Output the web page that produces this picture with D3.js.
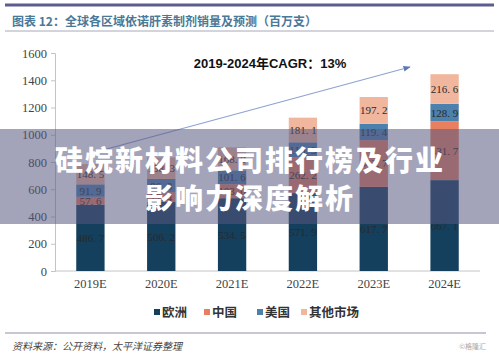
<!DOCTYPE html>
<html><head><meta charset="utf-8">
<script src="https://cdn.jsdelivr.net/npm/d3@7"></script>
<style>body{margin:0;background:#fff}svg{display:block}</style>
</head><body>
<svg id="c" width="499" height="355"></svg>
<script>
const categories = ["2019E","2020E","2021E","2022E","2023E","2024E"];
const europe = [486.7, 506.2, 534.5, 571.9, 617.7, 667.1];
const china  = [57.6, 72.4, 103.0, 262.2, 342.7, 431.7];
const usa    = [91.9, 96.8, 101.6, 110.3, 119.4, 128.9];
const other  = [148.5, 158.3, 168.0, 181.1, 197.2, 216.6];
const seriesNames = ["欧洲","中国","美国","其他市场"];
const seriesColors = ["#143f5d","#e8805f","#4c80ad","#f0b79e"];
const yTicks = [0,200,400,600,800,1000,1200,1400,1600];

const svg = d3.select("#c");
const x = d3.scaleBand().domain(categories).range([55,480]).paddingInner(0.6).paddingOuter(0.3);
const y = d3.scaleLinear().domain([0,1600]).range([271,53]);

// header
svg.append("line").attr("x1",5).attr("x2",494).attr("y1",5).attr("y2",5).attr("stroke","#5c5c8e").attr("stroke-width",3);
svg.append("text").attr("x",12).attr("y",26).attr("font-family","Noto Sans CJK SC").attr("font-size",12).attr("font-weight",700)
  .attr("fill","#4a7898").text("图表 12：全球各区域依诺肝素制剂销量及预测（百万支）");
svg.append("line").attr("x1",5).attr("x2",494).attr("y1",31).attr("y2",31).attr("stroke","#a8a8b8").attr("stroke-width",1);

// axes
const yAxis = svg.append("g").attr("transform","translate(55,0)")
  .call(d3.axisLeft(y).tickValues(yTicks).tickFormat(d3.format("d")).tickSize(4).tickPadding(4));
yAxis.select(".domain").attr("stroke","#c4c4c4");
yAxis.selectAll(".tick line").attr("stroke","#c4c4c4");
yAxis.selectAll("text").attr("font-family","Liberation Serif").attr("font-size",12.5).attr("fill","#444");

const xAxis = svg.append("g").attr("transform","translate(0,271)")
  .call(d3.axisBottom(x).tickSize(0).tickPadding(8));
xAxis.select(".domain").attr("stroke","#c4c4c4").attr("d","M55,0H480");
xAxis.selectAll("text").attr("font-family","Liberation Serif").attr("font-size",12.5).attr("fill","#444");

// stacked bars
const table = categories.map((c,i)=>({cat:c, "欧洲":europe[i], "中国":china[i], "美国":usa[i], "其他市场":other[i]}));
const stacked = d3.stack().keys(seriesNames)(table);
const color = d3.scaleOrdinal().domain(seriesNames).range(seriesColors);
const fmt = v => v.toFixed(1).replace(".", ". ");

stacked.forEach((layer)=>{
  const g = svg.append("g");
  g.selectAll("rect").data(layer).join("rect")
    .attr("x",d=>x(d.data.cat)).attr("width",x.bandwidth())
    .attr("y",d=>y(d[1])).attr("height",d=>y(d[0])-y(d[1]))
    .attr("fill",color(layer.key));
  g.selectAll("text").data(layer).join("text")
    .attr("x",d=>x(d.data.cat)+x.bandwidth()/2)
    .attr("y",d=>(y(d[0])+y(d[1]))/2+4)
    .attr("text-anchor","middle").attr("font-family","Liberation Serif").attr("font-size",11)
    .attr("fill","#2a2a2a").text(d=>fmt(d[1]-d[0]));
});

// CAGR annotation
svg.append("defs").append("marker").attr("id","ah").attr("viewBox","0 0 10 10").attr("refX",9).attr("refY",5)
  .attr("markerWidth",6).attr("markerHeight",6).attr("orient","auto")
  .append("path").attr("d","M0,1L10,5L0,9z").attr("fill","#5a78b8");
svg.append("line").attr("x1",103).attr("y1",150).attr("x2",410).attr("y2",67)
  .attr("stroke","#8ea3cf").attr("stroke-width",1.2).attr("marker-end","url(#ah)");
svg.append("text").attr("x",270).attr("y",68).attr("text-anchor","middle")
  .attr("font-family","Liberation Sans, Noto Sans CJK SC").attr("font-size",13).attr("font-weight",700).attr("fill","#111")
  .text("2019-2024年CAGR：13%");

// legend
const lg = svg.append("g");
const legX = [154, 204, 257, 301];
seriesNames.forEach((n,i)=>{
  lg.append("rect").attr("x",legX[i]).attr("y",309).attr("width",6).attr("height",6).attr("fill",seriesColors[i]);
  lg.append("text").attr("x",legX[i]+8).attr("y",317).attr("font-family","Noto Sans CJK SC").attr("font-size",12.5)
    .attr("font-weight",700).attr("fill","#333").text(n);
});

// footer
svg.append("line").attr("x1",5).attr("x2",486).attr("y1",333).attr("y2",333).attr("stroke","#9090aa").attr("stroke-width",1.2);
svg.append("text").attr("x",12).attr("y",350).attr("font-family","Noto Sans CJK SC").attr("font-size",10)
  .attr("font-style","italic").attr("fill","#444").text("资料来源：公开资料，太平洋证券整理");
svg.append("text").attr("x",486).attr("y",349).attr("text-anchor","end").attr("font-family","Noto Sans CJK SC").attr("font-size",7)
  .attr("fill","#aaa").text("©格隆汇");

// overlay banner
svg.append("rect").attr("x",0).attr("y",129).attr("width",499).attr("height",95).attr("fill","rgba(88,88,128,0.55)");
svg.append("text").attr("x",250).attr("y",171).attr("text-anchor","middle").attr("font-family","Noto Sans CJK SC")
  .attr("font-size",28).attr("font-weight",900).attr("letter-spacing",2).attr("fill","#fff").text("硅烷新材料公司排行榜及行业");
svg.append("text").attr("x",250).attr("y",209).attr("text-anchor","middle").attr("font-family","Noto Sans CJK SC")
  .attr("font-size",28).attr("font-weight",900).attr("letter-spacing",2).attr("fill","#fff").text("影响力深度解析");
</script>
</body></html>
